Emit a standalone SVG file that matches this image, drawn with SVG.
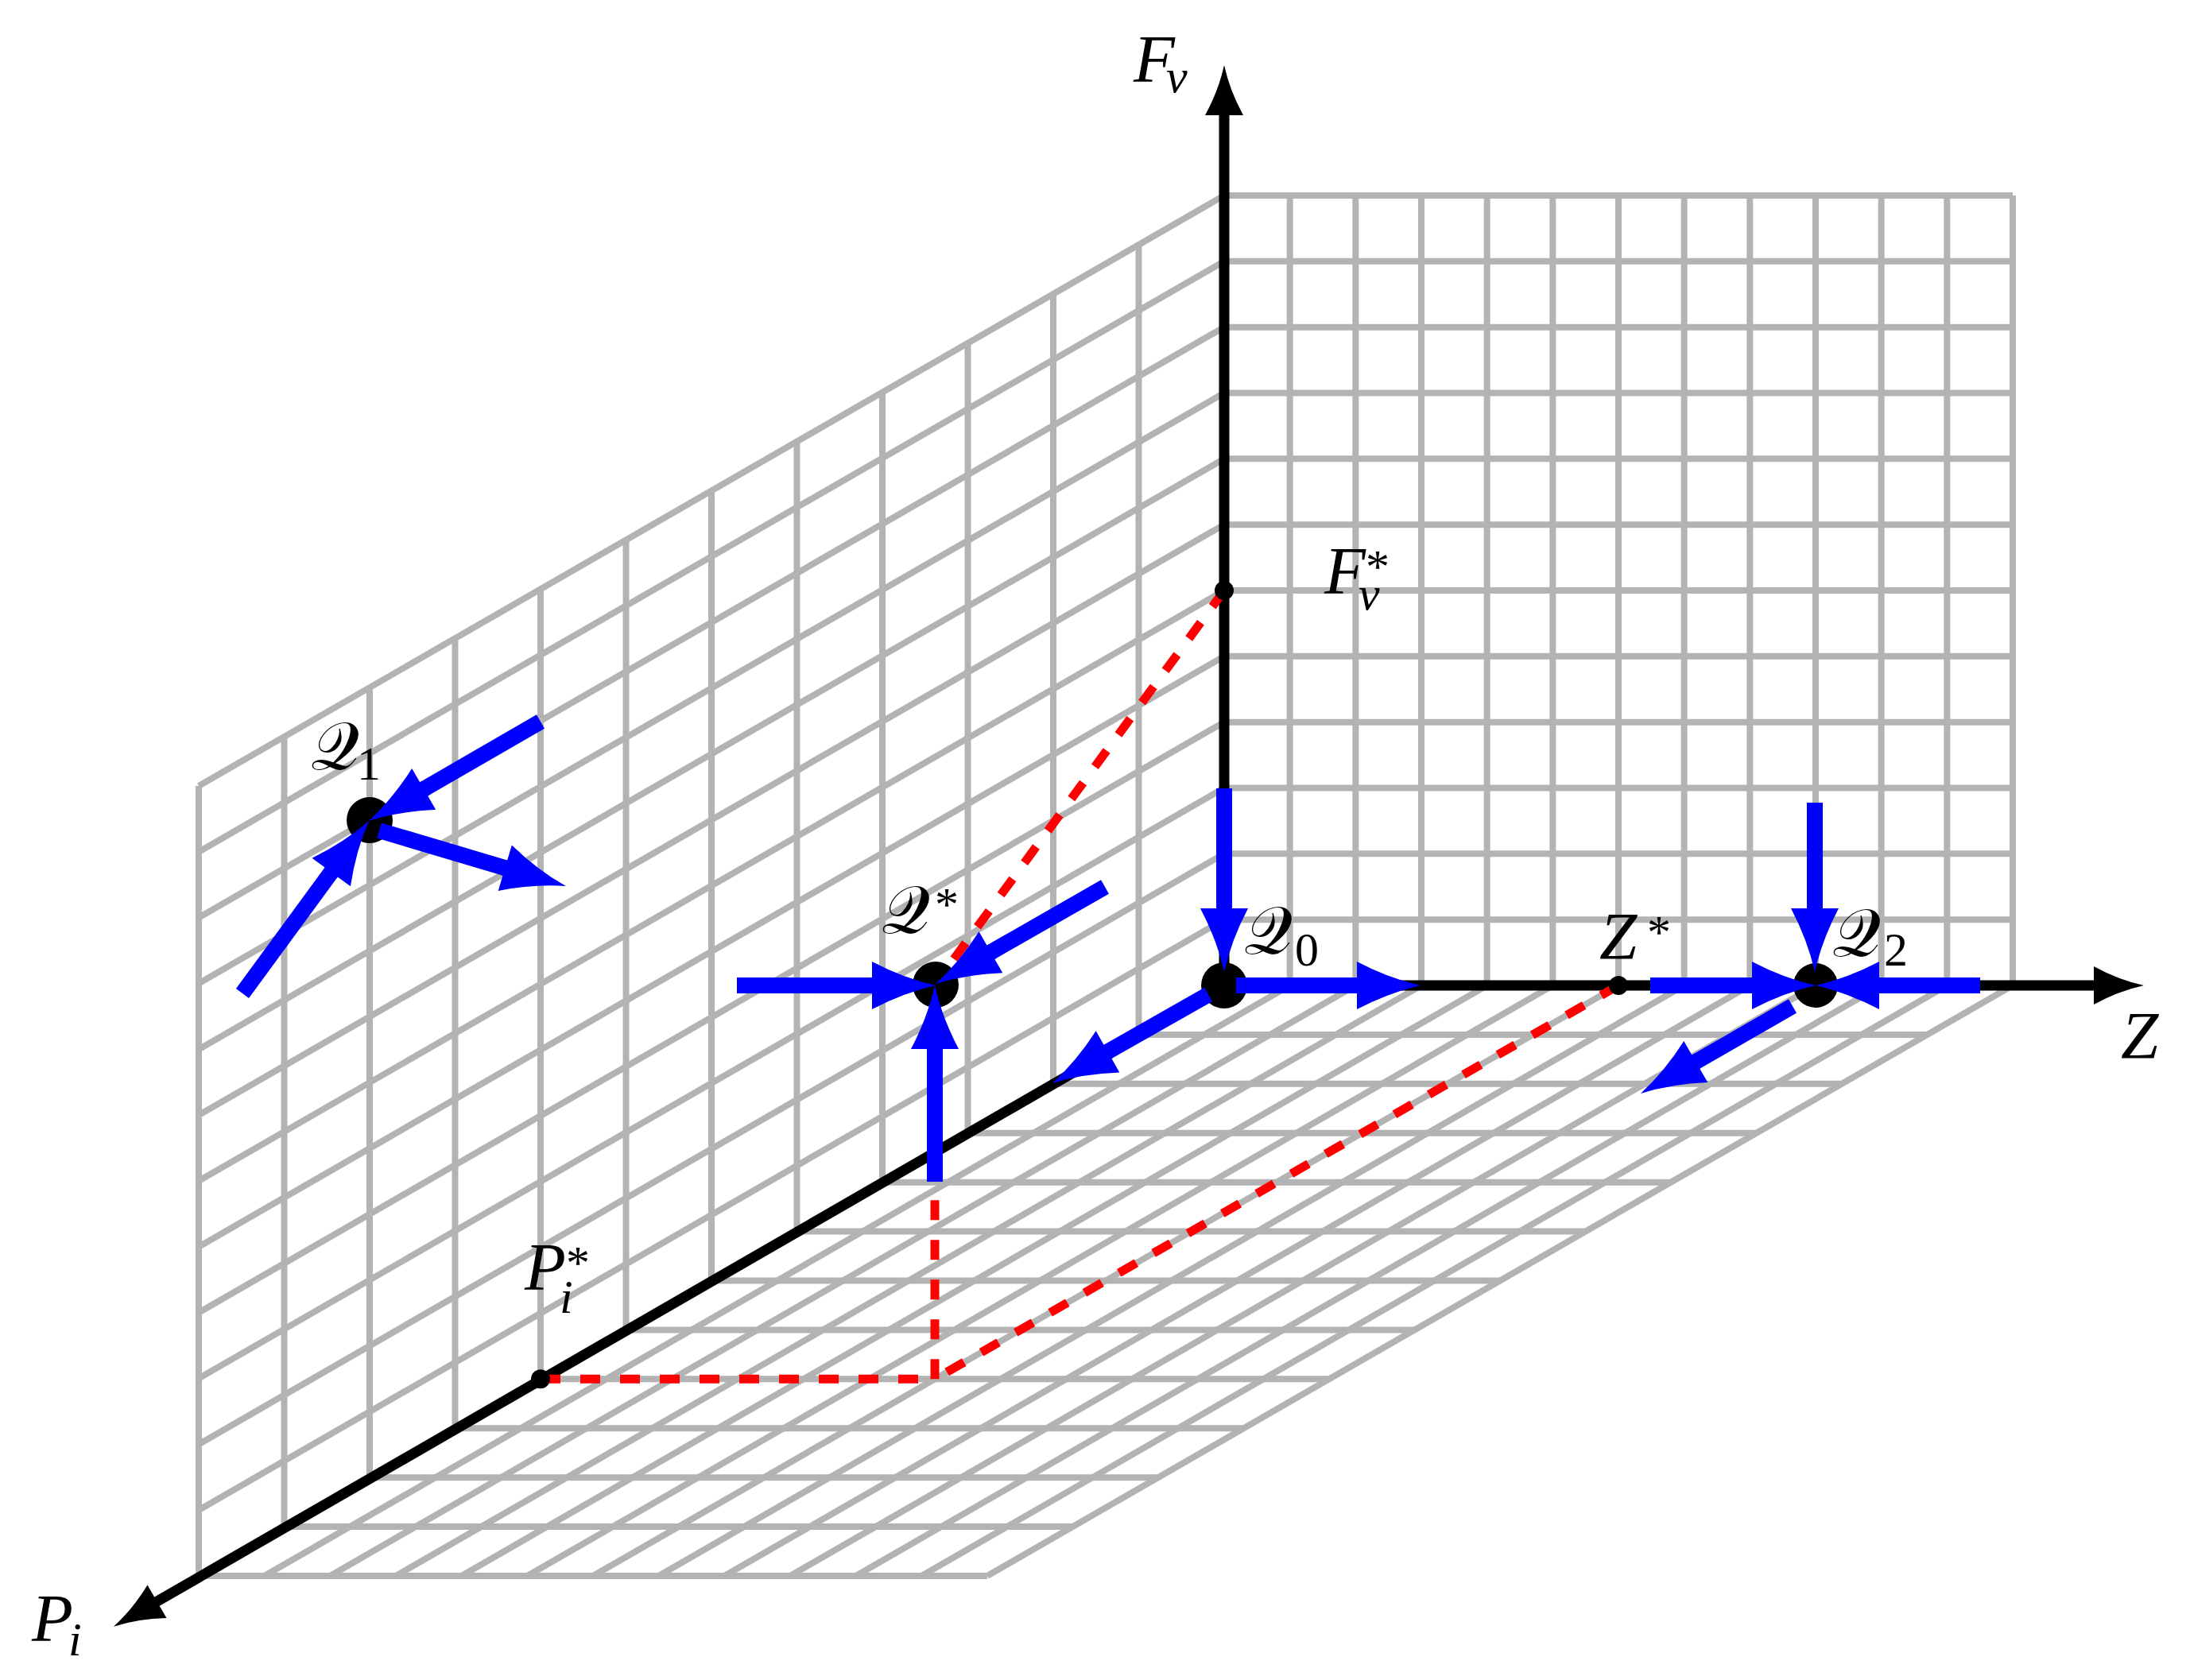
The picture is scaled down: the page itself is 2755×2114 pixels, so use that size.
<svg xmlns="http://www.w3.org/2000/svg" width="2755" height="2114" viewBox="0 0 2755 2114">
<style>
.grid{fill:none;stroke:#b3b3b3;stroke-width:8;stroke-linejoin:round}
.axis{fill:none;stroke:#000;stroke-width:13;marker-end:url(#ah)}
.red{fill:none;stroke:#f00;stroke-width:11;stroke-dasharray:25 25}
.blue{fill:none;stroke:#00f;stroke-width:20;marker-end:url(#bh)}
.lbl{font-family:"Liberation Serif","DejaVu Serif",serif;font-style:italic;font-size:85px;fill:#000}
.sm{font-size:60px}
.rm{font-style:normal}
.cal{font-family:"Liberation Serif","DejaVu Serif","Noto Sans",serif;font-style:normal}
</style>
<defs>
<marker id="bh" markerUnits="userSpaceOnUse" markerWidth="100" markerHeight="100" refX="0" refY="0" orient="auto" style="overflow:visible">
<path d="M0,-30 Q40,-9 80,0 Q40,9 0,30 L0,10 L-2,10 L-2,-10 L0,-10 Z" fill="#00f"/>
</marker>
<marker id="ah" markerUnits="userSpaceOnUse" markerWidth="100" markerHeight="100" refX="0" refY="0" orient="auto" style="overflow:visible">
<path d="M0,-24 Q31,-7 63,0 Q31,7 0,24 L0,6 L-2,6 L-2,-6 L0,-6 Z" fill="#000"/>
</marker>
</defs>
<rect width="2755" height="2114" fill="#fff"/>
<g id="grid" class="grid">
<path d="M250,1983 L1540,1240 L2532,1240 M250,1900.17 L1540,1157.17 L2532,1157.17 M250,1817.33 L1540,1074.33 L2532,1074.33 M250,1734.5 L1540,991.5 L2532,991.5 M250,1651.67 L1540,908.67 L2532,908.67 M250,1568.83 L1540,825.83 L2532,825.83 M250,1486 L1540,743 L2532,743 M250,1403.17 L1540,660.17 L2532,660.17 M250,1320.33 L1540,577.33 L2532,577.33 M250,1237.5 L1540,494.5 L2532,494.5 M250,1154.67 L1540,411.67 L2532,411.67 M250,1071.83 L1540,328.83 L2532,328.83 M250,989 L1540,246 L2532,246"/>
<path d="M1540,246 L1540,1240 L250,1983 M1622.67,246 L1622.67,1240 L332.67,1983 M1705.33,246 L1705.33,1240 L415.33,1983 M1788,246 L1788,1240 L498,1983 M1870.67,246 L1870.67,1240 L580.67,1983 M1953.33,246 L1953.33,1240 L663.33,1983 M2036,246 L2036,1240 L746,1983 M2118.67,246 L2118.67,1240 L828.67,1983 M2201.33,246 L2201.33,1240 L911.33,1983 M2284,246 L2284,1240 L994,1983 M2366.67,246 L2366.67,1240 L1076.67,1983 M2449.33,246 L2449.33,1240 L1159.33,1983 M2532,246 L2532,1240 L1242,1983"/>
<path d="M1540,246 L1540,1240 L2532,1240 M1432.5,307.92 L1432.5,1301.92 L2424.5,1301.92 M1325,369.83 L1325,1363.83 L2317,1363.83 M1217.5,431.75 L1217.5,1425.75 L2209.5,1425.75 M1110,493.67 L1110,1487.67 L2102,1487.67 M1002.5,555.58 L1002.5,1549.58 L1994.5,1549.58 M895,617.5 L895,1611.5 L1887,1611.5 M787.5,679.42 L787.5,1673.42 L1779.5,1673.42 M680,741.33 L680,1735.33 L1672,1735.33 M572.5,803.25 L572.5,1797.25 L1564.5,1797.25 M465,865.17 L465,1859.17 L1457,1859.17 M357.5,927.08 L357.5,1921.08 L1349.5,1921.08 M250,989 L250,1983 L1242,1983"/>
</g>
<g id="axes">
<path class="axis" d="M1540,1240 L1540,145"/>
<path class="axis" d="M1540,1240 L2634,1240"/>
<path class="axis" d="M1540,1240 L197.5,2015.2"/>
<text class="lbl" x="1426" y="103">F<tspan class="sm" x="1467" y="116">v</tspan></text>
<text class="lbl" x="2668" y="1332">Z</text>
<text class="lbl" x="40" y="2065">P<tspan class="sm" x="86" y="2083">i</tspan></text>
</g>
<g id="connectors">
<g id="projections" class="red">
<path d="M680,1735.3 L1176,1735.3"/>
<path d="M2036,1240 L1176,1735.3"/>
<path d="M1176,1735.3 L1176,1240"/>
<path d="M1540,743 L1177,1238"/>
</g>
</g>
<g id="node-Pistar">
<circle cx="680" cy="1735.3" r="12"/>
<text class="lbl" x="660" y="1623">P<tspan class="sm rm" x="712" y="1609">*</tspan><tspan class="sm" x="704" y="1652">i</tspan></text>
</g>
<g id="node-Zstar">
<circle cx="2036" cy="1240" r="12"/>
<text class="lbl" x="2012" y="1207">Z<tspan class="sm rm" x="2072" y="1193">*</tspan></text>
</g>
<g id="node-Fvstar">
<circle cx="1540" cy="743" r="12"/>
<text class="lbl" x="1666" y="747">F<tspan class="sm rm" x="1718" y="733">*</tspan><tspan class="sm" x="1709" y="767">v</tspan></text>
</g>
<g id="node-Q0">
<circle cx="1540" cy="1240" r="29"/>
<text class="lbl" x="1565" y="1200"><tspan class="cal">𝒬</tspan><tspan class="sm rm" x="1629" y="1215">0</tspan></text>
</g>
<g id="node-Qstar">
<circle cx="1177" cy="1239" r="29"/>
<text class="lbl" x="1109" y="1174"><tspan class="cal">𝒬</tspan><tspan class="sm rm" x="1176" y="1158">*</tspan></text>
</g>
<g id="node-Q1">
<circle cx="465" cy="1032" r="29"/>
<text class="lbl" x="391" y="968"><tspan class="cal">𝒬</tspan><tspan class="sm rm" x="449" y="981">1</tspan></text>
</g>
<g id="node-Q2">
<circle cx="2284" cy="1240" r="28"/>
<text class="lbl" x="2305" y="1203"><tspan class="cal">𝒬</tspan><tspan class="sm rm" x="2370" y="1215">2</tspan></text>
</g>
<g id="flows" class="blue">
<path d="M1540,992 L1540,1143"/>
<path d="M1555,1240 L1707,1240"/>
<path d="M1520,1251.5 L1393.5,1323.4"/>
<path d="M927,1240 L1097,1240"/>
<path d="M1176,1487 L1176,1320"/>
<path d="M1390,1116 L1246.4,1198.2"/>
<path d="M2283,1010 L2283,1143"/>
<path d="M2076,1240 L2204,1240"/>
<path d="M2491,1240 L2364,1240"/>
<path d="M2255,1266 L2133.3,1336.1"/>
<path d="M680,908 L533.2,992.9"/>
<path d="M305,1250 L416.7,1097.5"/>
<path d="M477,1045 L635.3,1092.2"/>
</g>
</svg>
